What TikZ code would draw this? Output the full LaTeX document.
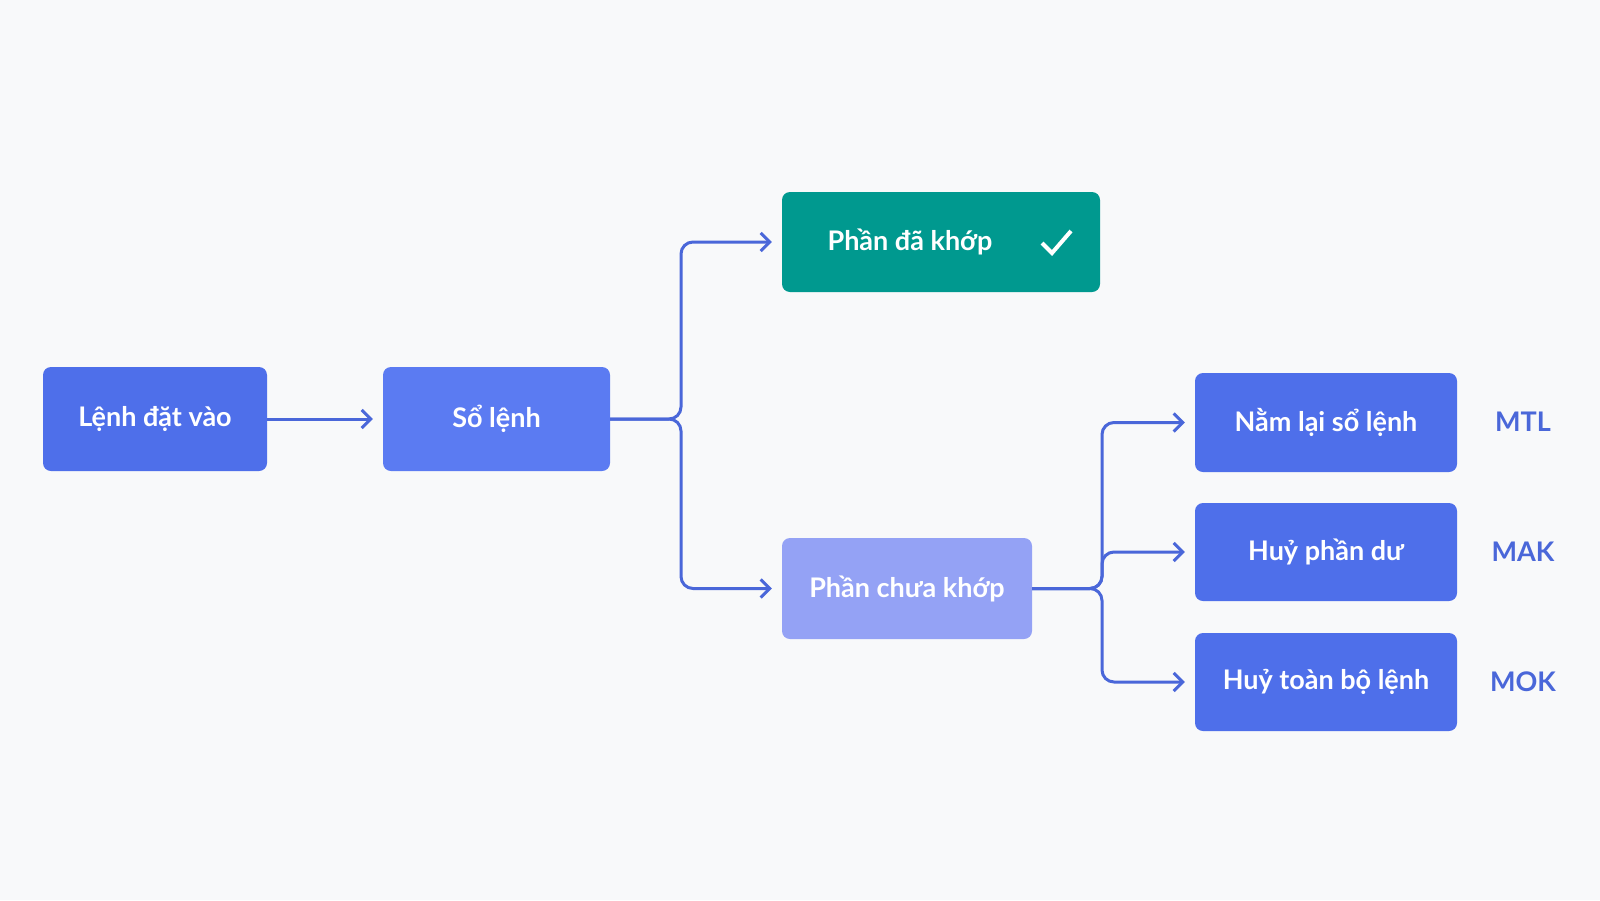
\documentclass[tikz,border=0pt]{standalone}
\usepackage{fontspec}
\setmainfont{Lato}
\usetikzlibrary{arrows.meta}
\definecolor{bg}{HTML}{F8F9FA}
\definecolor{bl}{HTML}{4E6FEA}
\definecolor{bl2}{HTML}{5B7BF2}
\definecolor{gr}{HTML}{00998F}
\definecolor{lt}{HTML}{94A2F5}
\definecolor{ln}{HTML}{4A67D9}
\begin{document}
\begin{tikzpicture}[x=1pt,y=-1pt,
  box/.style={rounded corners=8pt,draw=none,text=white,font=\bfseries\fontsize{27}{30}\selectfont,inner sep=0pt},
  lab/.style={text=ln,font=\bfseries\fontsize{27}{30}\selectfont},
  conn/.style={draw=ln,line width=3pt,rounded corners=12pt},
  arr/.style={conn,-{Straight Barb[length=9pt,width=18pt,line width=3pt]}}]
\fill[bg] (0,0) rectangle (1600,900);
\useasboundingbox (0,0) rectangle (1600,900);
\node[box,fill=bl,minimum width=224pt,minimum height=104pt] (a) at (155,419) {Lệnh đặt vào};
\node[box,fill=bl2,minimum width=227pt,minimum height=104pt] (b) at (496.5,419) {Sổ lệnh};
\node[box,fill=gr,minimum width=318pt,minimum height=100pt] (c) at (941,242) {};
\node[text=white,font=\bfseries\fontsize{27}{30}\selectfont] (ct) at (910,242) {Phần đã khớp};
\draw[white,line width=4pt] (1042,243) -- (1052,253) -- (1071,231);
\node[box,fill=lt,minimum width=250pt,minimum height=101pt] (d) at (907,588.5) {Phần chưa khớp};
\node[box,fill=bl,minimum width=262pt,minimum height=99pt] (e) at (1326,422.5) {Nằm lại sổ lệnh};
\node[box,fill=bl,minimum width=262pt,minimum height=98pt] (f) at (1326,552) {Huỷ phần dư};
\node[box,fill=bl,minimum width=262pt,minimum height=98pt] (g) at (1326,682) {Huỷ toàn bộ lệnh};
\node[lab] (m1) at (1523,422) {MTL};
\node[lab] (m2) at (1523,552) {MAK};
\node[lab] (m3) at (1523,682) {MOK};
\draw[arr] (a.east) -- ([xshift=-10pt]b.west);
\draw[arr] (b.east) -- (681,419) |- ([xshift=-10pt]c.west);
\draw[arr] (b.east) -- (681,419) |- ([xshift=-10pt]d.west);
\draw[arr] (d.east) -- (1102,588.5) |- ([xshift=-10pt]e.west);
\draw[arr] (d.east) -- (1102,588.5) |- ([xshift=-10pt]f.west);
\draw[arr] (d.east) -- (1102,588.5) |- ([xshift=-10pt]g.west);
\end{tikzpicture}
\end{document}
